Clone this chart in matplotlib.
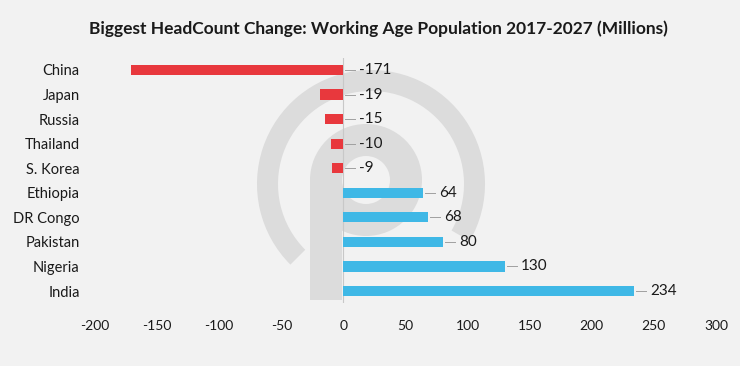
import matplotlib.pyplot as plt
import matplotlib.patches as mpatches
import numpy as np

countries = ['China', 'Japan', 'Russia', 'Thailand', 'S. Korea',
             'Ethiopia', 'DR Congo', 'Pakistan', 'Nigeria', 'India']
change = [-171, -19, -15, -10, -9, 64, 68, 80, 130, 234]
xticks = [-200, -150, -100, -50, 0, 50, 100, 150, 200, 250, 300]

bg = '#f2f2f2'
red = '#e8383d'
blue = '#3fb8e6'
wm = '#dcdcdc'

plt.rcParams['font.family'] = ['Lato', 'DejaVu Sans']

fig = plt.figure(figsize=(7.4, 3.66), dpi=100)
fig.patch.set_facecolor(bg)

# watermark logo, drawn in pixel coordinates (y downwards)
wax = fig.add_axes([0, 0, 1, 1], zorder=0)
wax.set_xlim(0, 740)
wax.set_ylim(366, 0)
wax.set_aspect('equal')
wax.axis('off')
wax.add_patch(mpatches.Wedge((371, 184), 114, 135, 390, width=21, fc=wm, ec='none'))
wax.add_patch(mpatches.Wedge((366, 180), 56, 0, 360, width=32, fc=wm, ec='none'))
wax.add_patch(mpatches.Rectangle((310, 180), 32, 120, fc=wm, ec='none'))

ax = fig.add_axes([95 / 740, (366 - 303.3) / 366, 621 / 740, 245.6 / 366], zorder=1)
ax.patch.set_alpha(0)

y = np.arange(len(countries))
colors = [red if v < 0 else blue for v in change]
ax.barh(y, change, height=0.42, color=colors, zorder=2)

ax.axvline(0, color='#c8c8c8', lw=0.8, zorder=1)

px = 500 / 621  # data units per pixel
for yi, v in zip(y, change):
    start = max(v, 0)
    ax.plot([start + 2 * px, start + 12 * px], [yi, yi], color='#a0a0a0', lw=0.7, zorder=3)
    ax.text(start + 16 * px, yi, str(v), ha='left', va='center', fontsize=11, color='#1a1a1a')

ax.set_xlim(-200, 300)
ax.set_ylim(9.5, -0.5)
ax.set_xticks(xticks)
ax.set_xticklabels([str(t) for t in xticks])
ax.set_yticks(y)
ax.set_yticklabels(countries)
ax.tick_params(axis='both', length=0, colors='#1a1a1a')
ax.tick_params(axis='x', pad=12, labelsize=10)
ax.tick_params(axis='y', pad=11, labelsize=10.5)
for s in ax.spines.values():
    s.set_visible(False)

fig.text(378 / 740, 1 - 29 / 366,
         'Biggest HeadCount Change: Working Age Population 2017-2027 (Millions)',
         ha='center', va='center', fontsize=12.5, fontweight='bold', color='#1a1a1a')

fig.savefig('out.png', dpi=100, facecolor=bg)
